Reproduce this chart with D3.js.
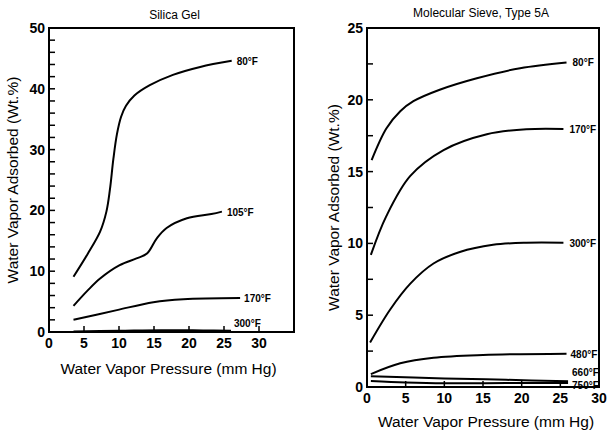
<!DOCTYPE html>
<html lang="en">
<head>
    <meta charset="UTF-8">
    <title>Water Vapor Adsorption</title>
    <style>
        body, html {
            margin: 0;
            padding: 0;
            background: #ffffff;
            font-family: 'Liberation Sans', Arial, sans-serif;
        }
        .frame { fill: none; stroke: #000; stroke-width: 2px; }
        .curve { fill: none; stroke: #000; stroke-width: 2px; }
        .tick-label { font-size: 14px; font-weight: bold; fill: #000; }
        .curve-label { font-size: 10px; font-weight: bold; fill: #000; }
        .title { font-size: 12px; fill: #000; }
        .axis-title { font-size: 15.5px; fill: #000; }
    </style>
</head>
<body>
    <svg width="607" height="430"></svg>

    <script src="https://cdnjs.cloudflare.com/ajax/libs/d3/7.8.5/d3.min.js"></script>
    <script>
        // Silica gel isotherms (x = mm Hg, y = wt.%)
        const silicaX80 = [3.5, 5.5, 7.3, 8.2, 8.7, 9.2, 9.7, 10.3, 11.0, 12.2, 14.4, 17.7, 21.6, 26.1];
        const silicaY80 = [9.1, 12.8, 16.5, 19.8, 23.4, 28.5, 32.5, 35.4, 37.2, 38.9, 40.6, 42.3, 43.6, 44.6];
        const silicaX105 = [3.5, 5.5, 7.3, 10.1, 12.5, 14.0, 15.4, 16.8, 19.7, 23.2, 24.7];
        const silicaY105 = [4.3, 6.8, 8.8, 11.0, 12.1, 12.9, 15.4, 17.1, 18.7, 19.4, 19.8];
        const silicaX170 = [3.5, 9.7, 14.9, 19.2, 27.3];
        const silicaY170 = [2.0, 3.6, 4.9, 5.4, 5.6];
        const silicaX300 = [3.5, 10, 16, 22, 26];
        const silicaY300 = [0.1, 0.2, 0.3, 0.25, 0.2];

        // Molecular sieve 5A isotherms
        const sieveX80 = [0.6, 2.5, 4.3, 6.0, 9.4, 14.2, 19.8, 25.8];
        const sieveY80 = [15.8, 18.0, 19.2, 19.9, 20.7, 21.5, 22.2, 22.6];
        const sieveX170 = [0.5, 2.5, 5.6, 9.9, 15.5, 20.6, 25.4];
        const sieveY170 = [9.2, 11.9, 14.7, 16.5, 17.6, 17.95, 17.97];
        const sieveX300 = [0.4, 3.0, 5.6, 8.6, 12.0, 16.3, 20.6, 25.4];
        const sieveY300 = [3.1, 5.4, 7.2, 8.6, 9.4, 9.9, 10.05, 10.05];
        const sieveX480 = [0.5, 4.3, 8.6, 15.0, 25.8];
        const sieveY480 = [0.9, 1.65, 2.04, 2.23, 2.32];
        const sieveX660 = [0.5, 10, 18, 26];
        const sieveY660 = [0.75, 0.6, 0.5, 0.4];
        const sieveX750 = [0.5, 5, 10, 18, 26];
        const sieveY750 = [0.42, 0.32, 0.26, 0.27, 0.28];

        const svg = d3.select("svg");

        function zipXY(xs, ys) {
            return xs.map((x, i) => [x, ys[i]]);
        }

        function drawPanel(cfg) {
            const x = d3.scaleLinear().domain(cfg.xDomain).range([cfg.left, cfg.right]);
            const y = d3.scaleLinear().domain(cfg.yDomain).range([cfg.bottom, cfg.top]);
            const g = svg.append("g");

            // y ticks (inward), minor and major
            g.selectAll(".ytick").data(cfg.yMinor).enter().append("line")
                .attr("x1", cfg.left).attr("x2", cfg.left + 6)
                .attr("y1", d => y(d)).attr("y2", d => y(d))
                .attr("stroke", "#000").attr("stroke-width", 1.5);
            g.selectAll(".ylab").data(cfg.yTicks).enter().append("text")
                .attr("class", "tick-label")
                .attr("x", cfg.left - 4).attr("y", d => y(d) + 5)
                .attr("text-anchor", "end")
                .text(d => d);

            // x ticks (inward)
            g.selectAll(".xtick").data(cfg.xTicks).enter().append("line")
                .attr("x1", d => x(d)).attr("x2", d => x(d))
                .attr("y1", cfg.bottom).attr("y2", cfg.bottom - 6)
                .attr("stroke", "#000").attr("stroke-width", 1.5);
            g.selectAll(".xlab").data(cfg.xTicks).enter().append("text")
                .attr("class", "tick-label")
                .attr("x", d => x(d)).attr("y", cfg.bottom + 16)
                .attr("text-anchor", "middle")
                .text(d => d);

            const line = d3.line()
                .x(d => x(d[0])).y(d => y(d[1]))
                .curve(d3.curveCatmullRom.alpha(0.5));

            cfg.series.forEach(s => {
                const pts = zipXY(s.xs, s.ys);
                g.append("path").attr("class", "curve").attr("d", line(pts));
                const last = pts[pts.length - 1];
                g.append("text").attr("class", "curve-label")
                    .attr("x", x(last[0]) + 3 + (s.dx || 0))
                    .attr("y", y(last[1]) + 4 + (s.dy || 0))
                    .text(s.label);
            });

            g.append("rect").attr("class", "frame")
                .attr("x", cfg.left).attr("y", cfg.top)
                .attr("width", cfg.right - cfg.left).attr("height", cfg.bottom - cfg.top);

            g.append("text").attr("class", "title")
                .attr("x", (cfg.left + cfg.right) / 2 + cfg.titleDx).attr("y", cfg.titleY)
                .attr("text-anchor", "middle").text(cfg.title);

            g.append("text").attr("class", "axis-title")
                .attr("x", (cfg.left + cfg.right) / 2 + cfg.xTitleDx).attr("y", cfg.xTitleY)
                .attr("text-anchor", "middle").text("Water Vapor Pressure (mm Hg)");

            g.append("text").attr("class", "axis-title")
                .attr("transform", `translate(${cfg.yTitleX},${(cfg.top + cfg.bottom) / 2}) rotate(-90)`)
                .attr("text-anchor", "middle").text("Water Vapor Adsorbed (Wt.%)");
        }

        drawPanel({
            left: 49, right: 294, top: 28, bottom: 332,
            xDomain: [0, 35], yDomain: [0, 50],
            xTicks: [0, 5, 10, 15, 20, 25, 30],
            yTicks: [0, 10, 20, 30, 40, 50],
            yMinor: d3.range(2, 50, 2),
            title: "Silica Gel", titleDx: 3, titleY: 19,
            xTitleDx: -3, xTitleY: 374, yTitleX: 18,
            series: [
                { xs: silicaX80, ys: silicaY80, label: "80°F", dx: 2 },
                { xs: silicaX105, ys: silicaY105, label: "105°F", dx: 2 },
                { xs: silicaX170, ys: silicaY170, label: "170°F", dx: 1 },
                { xs: silicaX300, ys: silicaY300, label: "300°F", dx: 0, dy: -8 }
            ]
        });

        drawPanel({
            left: 367, right: 599, top: 28, bottom: 387,
            xDomain: [0, 30], yDomain: [0, 25],
            xTicks: [0, 5, 10, 15, 20, 25, 30],
            yTicks: [0, 5, 10, 15, 20, 25],
            yMinor: d3.range(2.5, 25, 2.5),
            title: "Molecular Sieve, Type 5A", titleDx: -2, titleY: 17,
            xTitleDx: 3, xTitleY: 427, yTitleX: 339,
            series: [
                { xs: sieveX80, ys: sieveY80, label: "80°F", dx: 3 },
                { xs: sieveX170, ys: sieveY170, label: "170°F", dx: 3 },
                { xs: sieveX300, ys: sieveY300, label: "300°F", dx: 3 },
                { xs: sieveX480, ys: sieveY480, label: "480°F", dx: 1 },
                { xs: sieveX660, ys: sieveY660, label: "660°F", dx: 1, dy: -9 },
                { xs: sieveX750, ys: sieveY750, label: "750°F", dx: 1, dy: 2 }
            ]
        });
    </script>
</body>
</html>
